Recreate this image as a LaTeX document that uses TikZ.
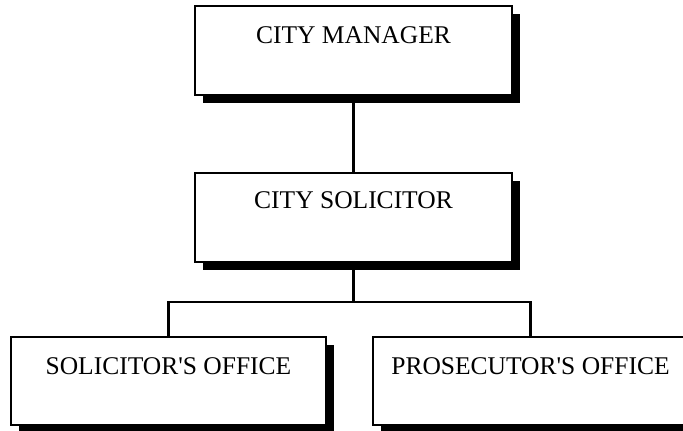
\documentclass[tikz,border=0pt]{standalone}
\usepackage{fontspec}
\setmainfont{Liberation Serif}
\usetikzlibrary{shadows}
\begin{document}
\begin{tikzpicture}[x = 1pt, y = -1pt,
	officebox/.style = {draw, line width = 2.5pt, fill = white, minimum width = 317pt, minimum height = 89pt, inner sep = 0pt,
		drop shadow = {shadow xshift = 8pt, shadow yshift = -8pt, fill = black, opacity = 1}},
	officetext/.style = {anchor = base, font = \fontsize{25.5}{28}\selectfont, inner sep = 0pt},
	orgline/.style = {line width = 2.5pt}]
	\useasboundingbox (0, 0) rectangle (683, 431);
					\node (mgr) at (353.5, 50.5) [officebox] {};
					\node (mgrtext) at (353.5, 43) [officetext] {CITY MANAGER};
					\node (sol) at (353.5, 217.5) [officebox] {};
					\node (soltext) at (353.5, 208) [officetext] {CITY SOLICITOR};
					\node (solo) at (168.5, 381) [officebox, minimum width = 315pt, minimum height = 88pt] {};
					\node (solotext) at (168.5, 374) [officetext] {SOLICITOR\textquotesingle S OFFICE};
					\node (proso) at (530.5, 381) [officebox, minimum width = 315pt, minimum height = 88pt] {};
					\node (prosotext) at (530.5, 374) [officetext] {PROSECUTOR\textquotesingle S OFFICE};
	% connectors
	\coordinate (split) at (353.5, 302);
	\draw[orgline] ([yshift = -5pt] mgr.south) -- (sol.north);
	\draw[orgline] ([yshift = -5pt] sol.south) -- (split);
	\draw[orgline] (solo.north) |- (split) -| (proso.north);
\end{tikzpicture}
\end{document}
